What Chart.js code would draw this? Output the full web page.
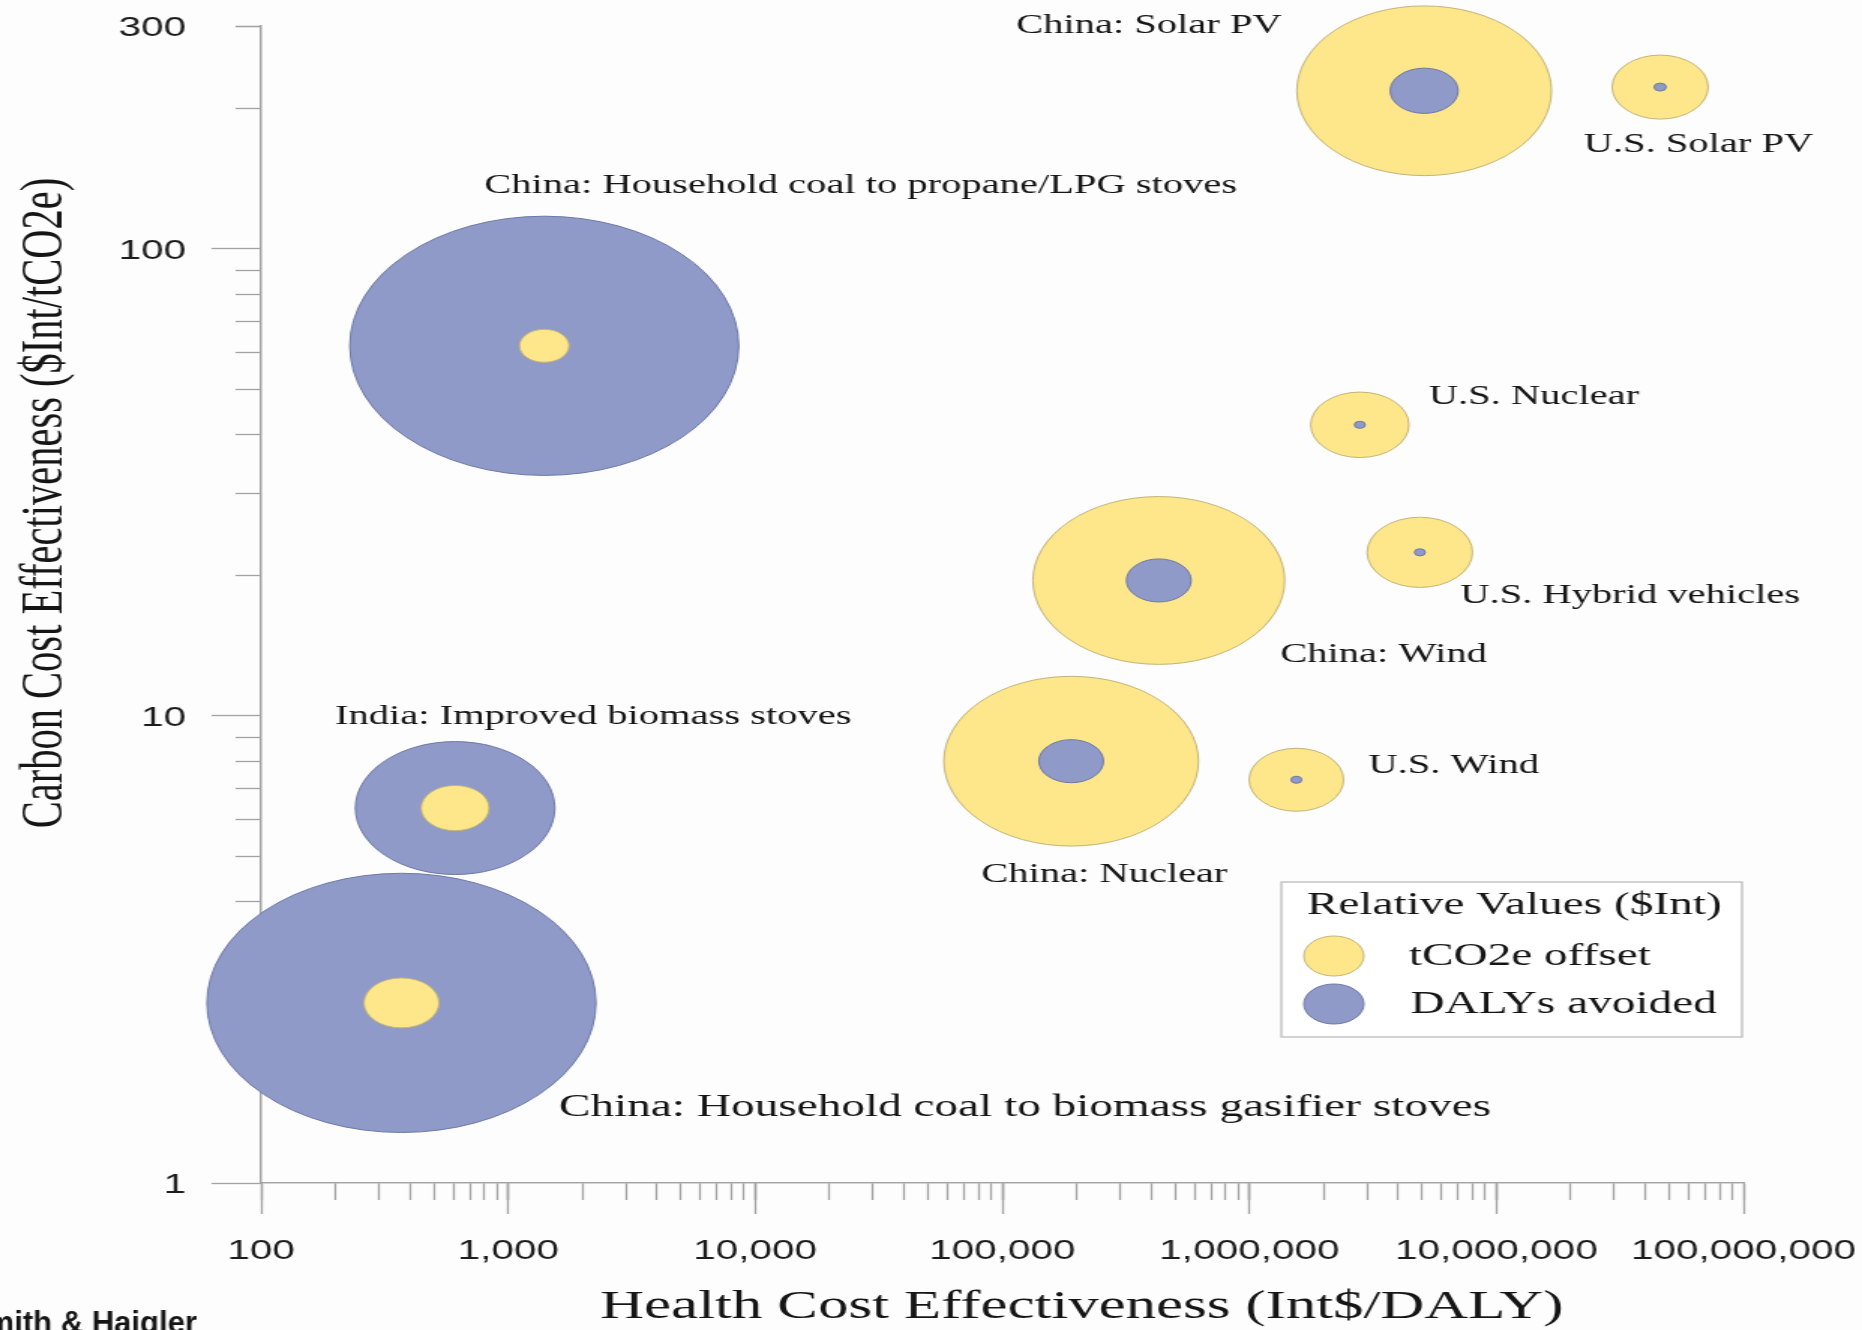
<!DOCTYPE html>
<html>
<head>
<meta charset="utf-8">
<script src="https://cdn.jsdelivr.net/npm/chart.js@4.4.1/dist/chart.umd.min.js"></script>
<style>
  html, body { margin: 0; padding: 0; background: #fdfdfd; overflow: hidden; }
</style>
</head>
<body>
<!-- the original picture is stretched 1.5x horizontally, so draw narrow and stretch with css -->
<canvas id="chart" width="1241" height="1330" style="width:1862px;height:1330px;display:block"></canvas>
<script>
const projectNames = [
    'China: Solar PV',
    'U.S. Solar PV',
    'China: Household coal to propane/LPG stoves',
    'U.S. Nuclear',
    'China: Wind',
    'U.S. Hybrid vehicles',
    'China: Nuclear',
    'U.S. Wind',
    'India: Improved biomass stoves',
    'China: Household coal to biomass gasifier stoves'
]

// Int$/DALY
const healthCost = [5.1e6, 4.6e7, 1400, 2.8e6, 4.3e5, 4.9e6, 1.9e5, 1.55e6, 610, 370]

// $Int/tCO2e
const carbonCost = [218, 222, 62, 42, 19.5, 22.4, 8.0, 7.3, 6.35, 2.43]

// relative values ($Int), bubble area
const co2Offset = [450, 64, 17, 67, 440, 77, 450, 62, 32, 39]
const dalysAvoided = [32, 1, 1050, 0.8, 29, 0.8, 29, 0.8, 276, 1050]

const xTickValues = [100, 1e3, 1e4, 1e5, 1e6, 1e7, 1e8]
const xTickLabels = ['100', '1,000', '10,000', '100,000', '1,000,000', '10,000,000', '100,000,000']
const yTickValues = [1, 10, 100, 300]
const yTickLabels = ['1', '10', '100', '300']

const legendTitle = 'Relative Values ($Int)'
const co2Label = 'tCO2e offset'
const dalyLabel = 'DALYs avoided'
const xTitle = 'Health Cost Effectiveness (Int$/DALY)'
const yTitle = 'Carbon Cost Effectiveness ($Int/tCO2e)'
const creditText = 'Smith & Haigler'

// styling
const yellow = '#fee68b'
const yellowEdge = '#c4b578'
const blue = '#8f9ac8'
const blueEdge = '#6e79a8'
const axisGray = '#a3a3a3'
const textColor = '#151515'
const serif = '"Liberation Serif", "Times New Roman", serif'
const sans = '"Liberation Sans", Arial, sans-serif'
const stretch = 1862 / 1241

const labelOffsets = [
    [-272, -65], [-51, 58], [-40, -160], [46, -28], [81, 74],
    [27, 44], [-60, 114], [48, -14], [-80, -91], [105, 105]
]
const labelFontSizes = [27, 27, 27, 27, 27, 27, 27, 27, 27, 31.5]

const radius = v => 4 * Math.sqrt(v)

// minor ticks: 1..10 in each decade
const xMinorTicks = []
for (let d = 100; d < 1e8; d *= 10) {
    for (let m = 1; m <= 10; m++) xMinorTicks.push(d * m)
}
const yMinorTicks = []
for (let d = 1; d <= 100; d *= 10) {
    for (let m = 2; m <= 9; m++) {
        if (d * m <= 300) yMinorTicks.push(d * m)
    }
}
yMinorTicks.push(300)

const isPow10 = v => Math.abs(Math.log10(v) - Math.round(Math.log10(v))) < 1e-9

function layerData(values, otherValues, bigger) {
    const out = []
    values.forEach((v, i) => {
        const isBig = v >= otherValues[i]
        if (isBig === bigger) {
            out.push({ x: healthCost[i], y: carbonCost[i], r: radius(v) })
        }
    })
    return out
}

function bubbleSet(label, data, fill, edge, order) {
    return {
        label,
        data,
        order,
        backgroundColor: fill,
        borderColor: edge,
        borderWidth: 1,
        clip: false
    }
}

// bigger circle of each pair goes behind (higher order draws first)
const datasets = [
    bubbleSet(co2Label, layerData(co2Offset, dalysAvoided, true), yellow, yellowEdge, 1),
    bubbleSet(dalyLabel, layerData(dalysAvoided, co2Offset, true), blue, blueEdge, 1),
    bubbleSet(co2Label, layerData(co2Offset, dalysAvoided, false), yellow, yellowEdge, 0),
    bubbleSet(dalyLabel, layerData(dalysAvoided, co2Offset, false), blue, blueEdge, 0)
]

const backgroundPlugin = {
    id: 'background',
    beforeDraw(chart) {
        const ctx = chart.ctx
        ctx.save()
        ctx.fillStyle = '#fdfdfd'
        ctx.fillRect(0, 0, chart.width, chart.height)
        ctx.restore()
    }
}

function dot(ctx, cx, cy, r, fill, edge) {
    ctx.beginPath()
    ctx.arc(cx, cy, r, 0, Math.PI * 2)
    ctx.fillStyle = fill
    ctx.fill()
    ctx.lineWidth = 1
    ctx.strokeStyle = edge
    ctx.stroke()
}

const textPlugin = {
    id: 'texts',
    afterDraw(chart) {
        const { ctx, chartArea, scales } = chart
        const x = scales.x
        const y = scales.y
        ctx.save()
        ctx.fillStyle = textColor
        ctx.textAlign = 'left'
        ctx.textBaseline = 'middle'

        projectNames.forEach((name, i) => {
            const px = x.getPixelForValue(healthCost[i]) + labelOffsets[i][0]
            const py = y.getPixelForValue(carbonCost[i]) + labelOffsets[i][1]
            ctx.font = labelFontSizes[i] + 'px ' + serif
            ctx.fillText(name, px, py)
        })

        // legend box
        const bx = chartArea.right - 308
        const by = chartArea.bottom - 301
        ctx.fillStyle = '#ffffff'
        ctx.fillRect(bx, by, 307, 155)
        ctx.strokeStyle = '#c4c4c4'
        ctx.lineWidth = 1.5
        ctx.strokeRect(bx, by, 307, 155)
        ctx.fillStyle = textColor
        ctx.font = '31.5px ' + serif
        ctx.fillText(legendTitle, bx + 17, by + 24)
        dot(ctx, bx + 35, by + 74, 20, yellow, yellowEdge)
        dot(ctx, bx + 35, by + 122, 20, blue, blueEdge)
        ctx.fillStyle = textColor
        ctx.fillText(co2Label, bx + 85, by + 75)
        ctx.fillText(dalyLabel, bx + 86, by + 123)

        // axis titles
        ctx.textAlign = 'center'
        ctx.font = '40.5px ' + serif
        ctx.fillText(xTitle, (chartArea.left + chartArea.right) / 2 + 53, 1307)
        ctx.save()
        ctx.translate(30, 503)
        ctx.rotate(-Math.PI / 2)
        ctx.fillText(yTitle, 0, 0)
        ctx.restore()

        // credit, cut by the edge, not stretched in the source
        ctx.save()
        ctx.scale(1 / stretch, 1)
        ctx.textAlign = 'left'
        ctx.textBaseline = 'alphabetic'
        ctx.font = 'bold 31px ' + sans
        ctx.fillText(creditText, -34, 1333)
        ctx.restore()

        ctx.restore()
    }
}

const gridBase = {
    drawOnChartArea: false,
    color: axisGray,
    tickColor: axisGray,
    tickWidth: 1.3
}

new Chart(document.getElementById('chart'), {
    type: 'bubble',
    data: { datasets },
    options: {
        responsive: false,
        devicePixelRatio: 1,
        animation: false,
        events: [],
        layout: { autoPadding: false, padding: { left: 0, top: 26, right: 79, bottom: 0 } },
        plugins: {
            legend: { display: false },
            tooltip: { enabled: false }
        },
        scales: {
            x: {
                type: 'logarithmic',
                position: 'bottom',
                weight: 10,
                min: 100,
                max: 1e8,
                afterBuildTicks: s => { s.ticks = xTickValues.map(v => ({ value: v })) },
                afterFit: s => { s.height = 147; s.paddingLeft = 0; s.paddingRight = 0 },
                grid: { ...gridBase, tickLength: 31 },
                border: { color: axisGray, width: 1.3 },
                ticks: {
                    autoSkip: false,
                    maxRotation: 0,
                    padding: 21,
                    color: '#1c1c1c',
                    font: { family: sans, size: 27 },
                    callback: (v, i) => xTickLabels[i]
                }
            },
            xMinor: {
                type: 'logarithmic',
                axis: 'x',
                position: 'bottom',
                weight: 0,
                min: 100,
                max: 1e8,
                afterBuildTicks: s => { s.ticks = xMinorTicks.map(v => ({ value: v })) },
                afterFit: s => { s.height = 0; s.paddingLeft = 0; s.paddingRight = 0 },
                grid: { ...gridBase, tickLength: 17 },
                border: { color: axisGray, width: 1.3 },
                ticks: { display: false, autoSkip: false }
            },
            y: {
                type: 'logarithmic',
                position: 'left',
                weight: 10,
                z: 1,
                min: 1,
                max: 300,
                afterBuildTicks: s => { s.ticks = yTickValues.map(v => ({ value: v })) },
                afterFit: s => { s.width = 174; s.paddingTop = 0; s.paddingBottom = 0 },
                grid: {
                    ...gridBase,
                    tickLength: 33,
                    // the top label sits on a short tick, drawn by the minor axis
                    tickColor: c => (c.tick && !isPow10(c.tick.value) ? 'rgba(0,0,0,0)' : axisGray)
                },
                border: { color: axisGray, width: 1.3 },
                ticks: {
                    autoSkip: false,
                    padding: 17,
                    labelOffset: 3,
                    color: '#1c1c1c',
                    font: { family: sans, size: 27 },
                    callback: (v, i) => yTickLabels[i]
                }
            },
            yMinor: {
                type: 'logarithmic',
                axis: 'y',
                position: 'left',
                weight: 0,
                z: 1,
                min: 1,
                max: 300,
                afterBuildTicks: s => { s.ticks = yMinorTicks.map(v => ({ value: v })) },
                afterFit: s => { s.width = 0; s.paddingTop = 0; s.paddingBottom = 0 },
                grid: { ...gridBase, tickLength: 17 },
                border: { color: axisGray, width: 1.3 },
                ticks: { display: false, autoSkip: false }
            }
        }
    },
    plugins: [backgroundPlugin, textPlugin]
})
</script>
</body>
</html>
